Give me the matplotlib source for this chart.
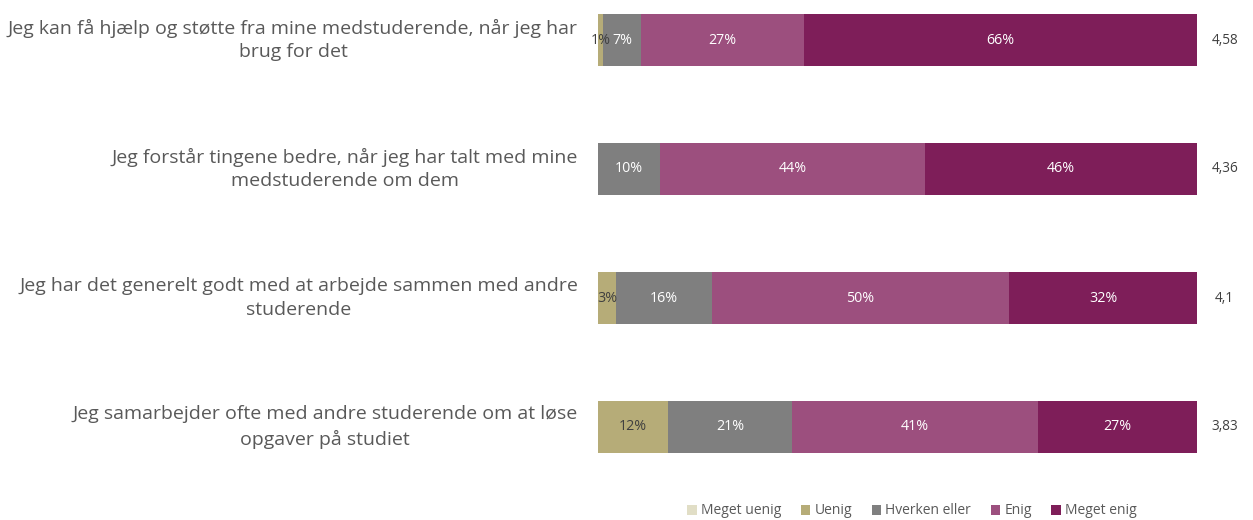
import matplotlib
matplotlib.use("Agg")
import matplotlib.pyplot as plt
import numpy as np

plt.rcParams['font.family'] = ['Open Sans', 'DejaVu Sans']

categories = [
    "Jeg kan få hjælp og støtte fra mine medstuderende, når jeg har\nbrug for det",
    "Jeg forstår tingene bedre, når jeg har talt med mine\nmedstuderende om dem",
    "Jeg har det generelt godt med at arbejde sammen med andre\nstuderende",
    "Jeg samarbejder ofte med andre studerende om at løse\nopgaver på studiet",
]
series_names = ["Meget uenig", "Uenig", "Hverken eller", "Enig", "Meget enig"]
meget_uenig = [0.0, 0.0, 0.0, 0.0]
uenig = [0.8, 0.0, 3.0, 11.7]
hverken = [6.4, 10.4, 16.0, 20.7]
enig = [27.2, 44.2, 49.6, 41.1]
meget_enig = [65.6, 45.4, 31.4, 26.5]
label_uenig = ["1%", "", "3%", "12%"]
label_hverken = ["7%", "10%", "16%", "21%"]
label_enig = ["27%", "44%", "50%", "41%"]
label_meget_enig = ["66%", "46%", "32%", "27%"]
means = ["4,58", "4,36", "4,1", "3,83"]

colors = ["#E1DEC6", "#B6AC78", "#7F7F7F", "#9C4F7E", "#7E1E59"]
text_colors = ["#404040", "#404040", "white", "white", "white"]

series = [meget_uenig, uenig, hverken, enig, meget_enig]
labels = [["", "", "", ""], label_uenig, label_hverken, label_enig, label_meget_enig]

fig = plt.figure(figsize=(12.53, 5.2), dpi=100)
ax = fig.add_axes([598/1253, 1 - 465.7/520, (1197-598)/1253, (465.7-1.3)/520])

y = np.arange(len(categories))
left = np.zeros(len(categories))
handles = []
for vals, col, tc, labs, name in zip(series, colors, text_colors, labels, series_names):
    vals = np.array(vals)
    h = ax.barh(y, vals, left=left, height=0.4, color=col, label=name, linewidth=0)
    handles.append(h)
    for i, (v, lab) in enumerate(zip(vals, labs)):
        if lab:
            ax.text(left[i] + v / 2, y[i], lab, ha='center', va='center',
                    color=tc, fontsize=10.3)
    left += vals

ax.set_xlim(0, left.max())
ax.set_ylim(3.3, -0.3)
ax.axis('off')

for i, cat in enumerate(categories):
    ax.annotate(cat, xy=(0, y[i]), xycoords=('axes fraction', 'data'),
                xytext=(-14.4, 0), textcoords='offset points', ha='right',
                va='center', multialignment='center', fontsize=14,
                color='#595959', linespacing=1.42)
    ax.annotate(means[i], xy=(1, y[i]), xycoords=('axes fraction', 'data'),
                xytext=(20, 0), textcoords='offset points', ha='center',
                va='center', fontsize=9.8, color='#404040')

leg = fig.legend(handles=handles, labels=series_names, loc='center',
                 bbox_to_anchor=(912/1253, 1 - 511/520), ncol=5, frameon=False,
                 fontsize=10, handlelength=0.7, handleheight=0.7,
                 handletextpad=0.3, columnspacing=1.4)
for t in leg.get_texts():
    t.set_color('#595959')

fig.savefig("out.png", dpi=100)
